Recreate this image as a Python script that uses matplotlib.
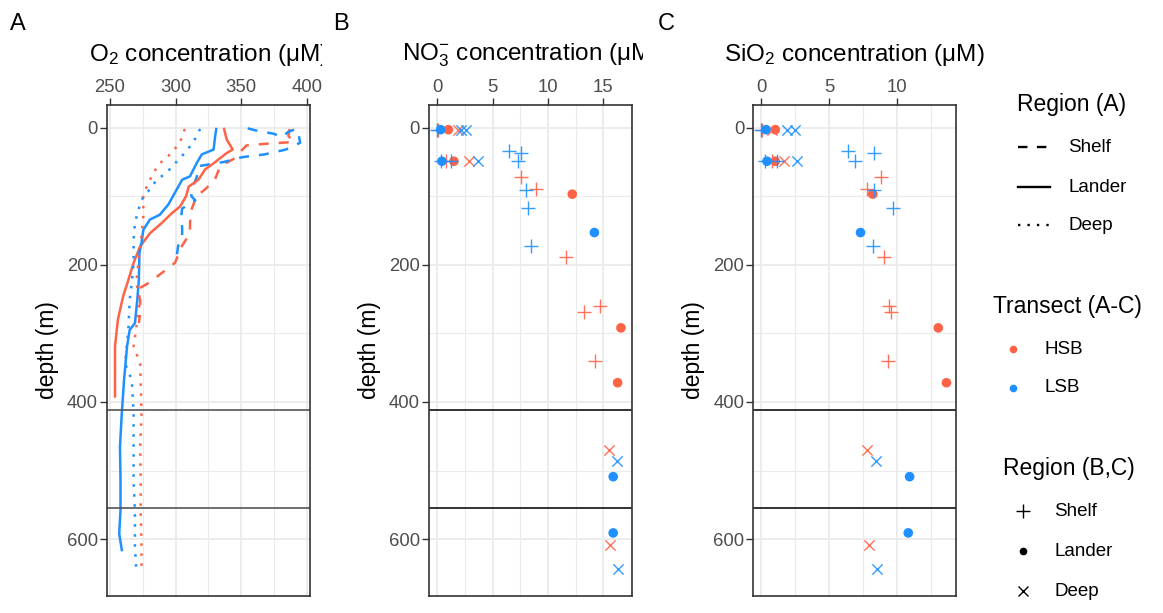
import matplotlib
matplotlib.use("Agg")
import matplotlib.pyplot as plt
from matplotlib.transforms import Bbox, TransformedBbox
from matplotlib.lines import Line2D

plt.rcParams['font.family'] = ['Liberation Sans', 'DejaVu Sans']
plt.rcParams['mathtext.fontset'] = 'custom'
plt.rcParams['mathtext.rm'] = 'Liberation Sans'
plt.rcParams['mathtext.it'] = 'Liberation Sans:italic'
plt.rcParams['mathtext.default'] = 'regular'

# ---------------- data ----------------
HSB_COLOR = '#FF6347'
LSB_COLOR = '#1E90FF'

# Panel A: O2 profiles (depth m, O2 uM)
o2_shelf_hsb_depth = [2, 12, 21, 23, 26, 46, 56, 76, 90, 100, 120, 139, 154, 173, 197, 212, 227, 237, 251, 270, 285]
o2_shelf_hsb_conc = [387, 386, 390, 372, 354, 344, 334, 330, 322.5, 316, 312, 311, 311, 304.7, 299.6, 289.5, 279, 270, 273, 273, 272]
o2_shelf_lsb_depth = [1, 4, 9, 14, 6, 2, 12, 22, 32, 39, 43, 50, 56, 73, 87, 100, 106, 118, 134, 145, 158, 172, 185]
o2_shelf_lsb_conc = [355, 361, 375, 381, 386, 392, 394, 395, 384, 368, 351, 337, 318, 316, 313, 312, 315, 305, 304, 305, 305, 302, 301]
o2_lander_hsb_depth = [2, 17.5, 32, 37, 52, 61, 76, 86, 100, 115, 125, 139, 154, 173, 197, 222, 246, 280, 319, 392]
o2_lander_hsb_conc = [337, 339, 343.6, 339, 329, 322.5, 317.4, 310, 308, 303.4, 297, 289.5, 280.5, 273, 268, 264, 260, 256, 253.8, 253.8]
o2_lander_lsb_depth = [2, 15, 32, 39, 52, 71, 76, 100, 112, 127, 134, 149, 168, 183, 222, 251, 285, 295, 319, 368, 416, 465, 514, 558, 592, 616]
o2_lander_lsb_conc = [331, 330, 329, 320, 316, 311, 305, 298, 294.5, 288, 280.5, 275.4, 274, 272.4, 272, 270.8, 269, 265, 263, 260.7, 259, 257.6, 258, 258, 257, 259]
o2_deep_hsb_depth = [2, 21, 37, 52, 66, 86, 100, 129, 158, 197, 226, 251, 319, 344, 416, 465, 514, 562, 611, 647]
o2_deep_hsb_conc = [307, 303.4, 297, 288, 283, 278, 275.4, 275.4, 274, 271.6, 270, 273, 268, 273, 274, 273, 273.4, 273.4, 274, 274]
o2_deep_lsb_depth = [2, 21, 37, 52, 66, 76, 90, 100, 120, 139, 163, 197, 226, 251, 295, 344, 368, 416, 465, 514, 562, 611, 645]
o2_deep_lsb_conc = [318.7, 313.6, 307, 299.6, 293, 285.6, 280.5, 275.4, 271.6, 269, 268, 268, 266.6, 265, 264, 261.5, 266.6, 268, 268, 268, 269, 269, 270]

# Panels B, C: discrete samples
sample_transect = ['HSB', 'LSB', 'HSB', 'LSB', 'HSB', 'LSB', 'LSB',
                   'HSB', 'LSB', 'LSB', 'HSB', 'LSB', 'HSB', 'LSB',
                   'LSB', 'LSB', 'LSB', 'LSB', 'LSB', 'LSB',
                   'HSB', 'HSB', 'HSB', 'HSB', 'HSB', 'HSB',
                   'HSB', 'HSB', 'HSB',
                   'LSB', 'LSB', 'LSB',
                   'HSB', 'HSB', 'LSB', 'LSB']
sample_region = ['Shelf', 'Shelf', 'Lander', 'Lander', 'Deep', 'Deep', 'Deep',
                 'Shelf', 'Shelf', 'Shelf', 'Lander', 'Lander', 'Deep', 'Deep',
                 'Shelf', 'Shelf', 'Shelf', 'Shelf', 'Shelf', 'Shelf',
                 'Shelf', 'Shelf', 'Shelf', 'Shelf', 'Shelf', 'Shelf',
                 'Lander', 'Lander', 'Lander',
                 'Lander', 'Lander', 'Lander',
                 'Deep', 'Deep', 'Deep', 'Deep']
sample_depth = [3, 3, 3, 3, 3, 3, 3,
                49, 49, 49, 49, 49, 49, 49,
                33.6, 37, 48, 91.5, 117, 172,
                72.5, 89.5, 189, 260, 269, 341,
                97, 292, 372,
                153, 509, 591,
                470, 609, 486, 643]
sample_no3 = [0.1, 0.0, 1.0, 0.3, 1.9, 2.1, 2.6,
              0.8, 1.27, 0.3, 1.5, 0.42, 2.9, 3.7,
              6.5, 7.6, 7.3, 8.0, 8.2, 8.5,
              7.6, 8.9, 11.6, 14.7, 13.3, 14.3,
              12.2, 16.6, 16.3,
              14.2, 15.9, 15.9,
              15.5, 15.6, 16.2, 16.3]
sample_sio2 = [0.1, 0.0, 1.05, 0.37, 0.8, 1.9, 2.5,
               0.8, 1.2, 0.3, 1.05, 0.44, 1.66, 2.63,
               6.4, 8.3, 6.9, 8.3, 9.7, 8.2,
               8.8, 7.8, 9.0, 9.4, 9.55, 9.3,
               8.2, 13.0, 13.6,
               7.3, 10.9, 10.8,
               7.8, 7.9, 8.45, 8.5]

depth_lines = [412, 555]
depth_ticks = [0, 200, 400, 600]
o2_ticks = [250, 300, 350, 400]
no3_ticks = [0, 5, 10, 15]
sio2_ticks = [0, 5, 10]

# ---------------- figure ----------------
W, H = 1163, 613
fig = plt.figure(figsize=(W / 100, H / 100), dpi=100)

def px_rect(l, t, r, b):
    return [l / W, 1 - b / H, (r - l) / W, (b - t) / H]

axA = fig.add_axes(px_rect(107, 105, 310, 596))
axB = fig.add_axes(px_rect(429, 105, 632, 596))
axC = fig.add_axes(px_rect(753.3, 105, 956, 596))

TXT = '#4D4D4D'
BORDER = '#333333'

def style(ax, xticks, xlim):
    ax.set_xlim(*xlim)
    ax.set_ylim(683, -33)
    ax.xaxis.tick_top()
    ax.set_xticks(xticks)
    ax.set_yticks(depth_ticks)
    step = xticks[1] - xticks[0]
    minors = [t + step / 2 for t in xticks]
    minors = [m for m in minors if xlim[0] < m < xlim[1]]
    ax.set_xticks(minors, minor=True)
    ax.set_yticks([100, 300, 500], minor=True)
    ax.grid(True, which='major', color='#EBEBEB', lw=1.3)
    ax.grid(True, which='minor', color='#EBEBEB', lw=0.8)
    ax.set_axisbelow(True)
    ax.tick_params(which='major', length=5, width=1, color=BORDER,
                   labelsize=13.3, labelcolor=TXT, pad=1.5)
    ax.tick_params(which='minor', length=0)
    for s in ax.spines.values():
        s.set_color(BORDER)
        s.set_linewidth(1.2)
    ax.set_ylabel('depth (m)', fontsize=16.5, labelpad=6)

style(axA, o2_ticks, (247.7, 402.5))
style(axB, no3_ticks, (-0.75, 17.6))
style(axC, sio2_ticks, (-0.56, 14.3))

# Panel A profiles
lw = 1.8
dash = (0, (4, 4))
dot = (0, (1, 3))
axA.plot(o2_shelf_hsb_conc, o2_shelf_hsb_depth, color=HSB_COLOR, lw=lw, ls=dash)
axA.plot(o2_shelf_lsb_conc, o2_shelf_lsb_depth, color=LSB_COLOR, lw=lw, ls=dash)
axA.plot(o2_lander_hsb_conc, o2_lander_hsb_depth, color=HSB_COLOR, lw=lw, ls='-')
axA.plot(o2_lander_lsb_conc, o2_lander_lsb_depth, color=LSB_COLOR, lw=lw, ls='-')
axA.plot(o2_deep_hsb_conc, o2_deep_hsb_depth, color=HSB_COLOR, lw=lw, ls=dot)
axA.plot(o2_deep_lsb_conc, o2_deep_lsb_depth, color=LSB_COLOR, lw=lw, ls=dot)
for d in depth_lines:
    axA.axhline(d, color='#555555', lw=1.2)

# Panels B & C points
marker_of = {'Shelf': '+', 'Lander': 'o', 'Deep': 'x'}
size_of = {'Shelf': 100, 'Lander': 48, 'Deep': 55}
color_of = {'HSB': HSB_COLOR, 'LSB': LSB_COLOR}
for ax, vals in ((axB, sample_no3), (axC, sample_sio2)):
    for tr in ('HSB', 'LSB'):
        for rg in ('Shelf', 'Lander', 'Deep'):
            xs = [v for v, t, r in zip(vals, sample_transect, sample_region) if t == tr and r == rg]
            ys = [d for d, t, r in zip(sample_depth, sample_transect, sample_region) if t == tr and r == rg]
            if rg == 'Lander':
                ax.scatter(xs, ys, marker='o', s=size_of[rg], color=color_of[tr],
                           edgecolors='none', zorder=3)
            else:
                ax.scatter(xs, ys, marker=marker_of[rg], s=size_of[rg], color=color_of[tr],
                           linewidths=1.0, alpha=0.9, zorder=3)
    for d in depth_lines:
        ax.axhline(d, color='#222222', lw=1.3)

# Top titles (clipped to panel cell)
def clip_text(x, y, s, right_px, **kw):
    t = fig.text(x / W, 1 - y / H, s, **kw)
    bb = TransformedBbox(Bbox([[0, 0], [right_px / W, 1]]), fig.transFigure)
    t.set_clip_box(bb)
    t.set_clip_on(True)
    return t

clip_text(208.5, 60.5, 'O$_2$ concentration (μM)', 322, fontsize=17.5,
          ha='center', va='baseline', color='black')
clip_text(530.5, 60.5, 'NO$_3^{-}$ concentration (μM)', 643, fontsize=17.5,
          ha='center', va='baseline', color='black')
clip_text(854.6, 60.5, 'SiO$_2$ concentration (μM)', W, fontsize=17.5,
          ha='center', va='baseline', color='black')

# Panel letters
for x, s in ((10, 'A'), (333, 'B'), (658, 'C')):
    fig.text(x / W, 1 - 30 / H, s, fontsize=17, ha='left', va='baseline')

# Legends (overlay)
lax = fig.add_axes([0, 0, 1, 1])
lax.set_xlim(0, W)
lax.set_ylim(H, 0)
lax.axis('off')

lax.text(1017, 104, 'Region (A)', fontsize=16.5, ha='left', va='center')
for y, ls, lab in ((147, dash, 'Shelf'), (187, '-', 'Lander'), (225, dot, 'Deep')):
    lax.add_line(Line2D([1018, 1050], [y, y], color='black', lw=1.7, ls=ls))
    lax.text(1068, y, lab, fontsize=13.5, ha='left', va='center')

lax.text(993, 306, 'Transect (A-C)', fontsize=16.5, ha='left', va='center')
for y, c, lab in ((349, HSB_COLOR, 'HSB'), (388, LSB_COLOR, 'LSB')):
    lax.plot([1013], [y], marker='o', ms=5.5, color=c, mec='none')
    lax.text(1044, y, lab, fontsize=13.5, ha='left', va='center')

lax.text(1003, 469, 'Region (B,C)', fontsize=16.5, ha='left', va='center')
for y, m, ms, lab in ((511, '+', 10, 'Shelf'), (551, 'o', 5.5, 'Lander'), (591, 'x', 7, 'Deep')):
    lax.plot([1023], [y], marker=m, ms=ms, color='black', mew=1.0, mec='black' if m != 'o' else 'none')
    lax.text(1054, y, lab, fontsize=13.5, ha='left', va='center')

fig.savefig('out.png', dpi=100)
